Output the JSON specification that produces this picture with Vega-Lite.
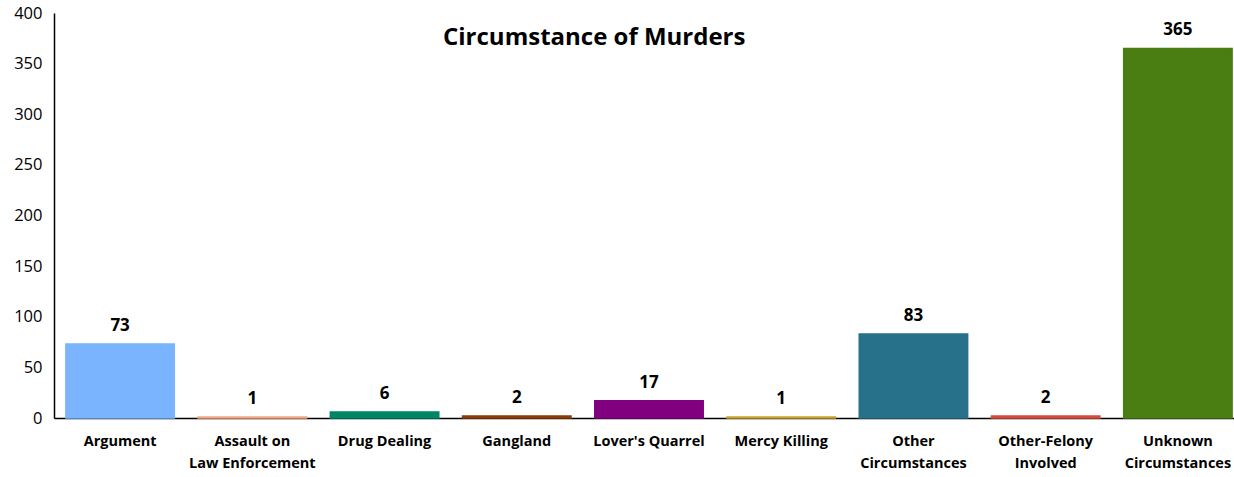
{
  "$schema": "https://vega.github.io/schema/vega-lite/v6.json",
  "width": 1190,
  "height": 405,
  "autosize": {"type": "none"},
  "padding": {"left": 54, "top": 13, "right": 0, "bottom": 59},
  "background": "white",
  "config": {"view": {"stroke": null}, "font": "Open Sans"},
  "title": {"text": "Circumstance of Murders", "fontSize": 24, "fontWeight": "bold", "font": "Open Sans", "color": "#000000", "anchor": "start", "dx": 389, "offset": -45, "frame": "group"},
  "data": {"values": [
    {"category": "Argument", "count": 73},
    {"category": "Assault on Law Enforcement", "count": 1},
    {"category": "Drug Dealing", "count": 6},
    {"category": "Gangland", "count": 2},
    {"category": "Lover's Quarrel", "count": 17},
    {"category": "Mercy Killing", "count": 1},
    {"category": "Other Circumstances", "count": 83},
    {"category": "Other-Felony Involved", "count": 2},
    {"category": "Unknown Circumstances", "count": 365}
  ]},
  "encoding": {
    "x": {"field": "category", "type": "nominal", "sort": null,
      "scale": {"paddingInner": 0.18, "paddingOuter": 0.09},
      "axis": {"title": null, "labelAngle": 0, "ticks": false, "domainColor": "#000000", "domainWidth": 1.5,
        "labelFont": "Open Sans", "labelFontWeight": "bold", "labelFontSize": 14.5, "labelColor": "#000000", "labelPadding": 16, "labelLineHeight": 22,
        "labelExpr": "datum.label == 'Assault on Law Enforcement' ? ['Assault on', 'Law Enforcement'] : datum.label == 'Other Circumstances' ? ['Other', 'Circumstances'] : datum.label == 'Other-Felony Involved' ? ['Other-Felony', 'Involved'] : datum.label == 'Unknown Circumstances' ? ['Unknown', 'Circumstances'] : datum.label"}},
    "y": {"field": "count", "type": "quantitative",
      "scale": {"domain": [0, 400]},
      "axis": {"title": null, "values": [0, 50, 100, 150, 200, 250, 300, 350, 400], "grid": false, "ticks": false, "domainColor": "#000000", "domainWidth": 1.5,
        "labelFont": "Open Sans", "labelFontSize": 16.5, "labelColor": "#000000", "labelPadding": 12}}
  },
  "layer": [
    {"mark": {"type": "bar", "strokeWidth": 1.5},
      "encoding": {
        "color": {"field": "category", "type": "nominal", "sort": null, "legend": null,
          "scale": {"domain": ["Argument", "Assault on Law Enforcement", "Drug Dealing", "Gangland", "Lover's Quarrel", "Mercy Killing", "Other Circumstances", "Other-Felony Involved", "Unknown Circumstances"],
            "range": ["#7ab4ff", "#f4a582", "#008566", "#8c3d0b", "#800080", "#c9a227", "#27718a", "#d64b3a", "#4a7e12"]}},
        "stroke": {"field": "category", "type": "nominal", "sort": null, "legend": null,
          "scale": {"domain": ["Argument", "Assault on Law Enforcement", "Drug Dealing", "Gangland", "Lover's Quarrel", "Mercy Killing", "Other Circumstances", "Other-Felony Involved", "Unknown Circumstances"],
            "range": ["#7ab4ff", "#f4a582", "#008566", "#8c3d0b", "#800080", "#c9a227", "#27718a", "#d64b3a", "#4a7e12"]}}}},
    {"mark": {"type": "text", "baseline": "bottom", "dy": -9, "font": "Open Sans", "fontWeight": "bold", "fontSize": 17, "color": "#000000"},
      "encoding": {"text": {"field": "count", "type": "quantitative"}}}
  ]
}
